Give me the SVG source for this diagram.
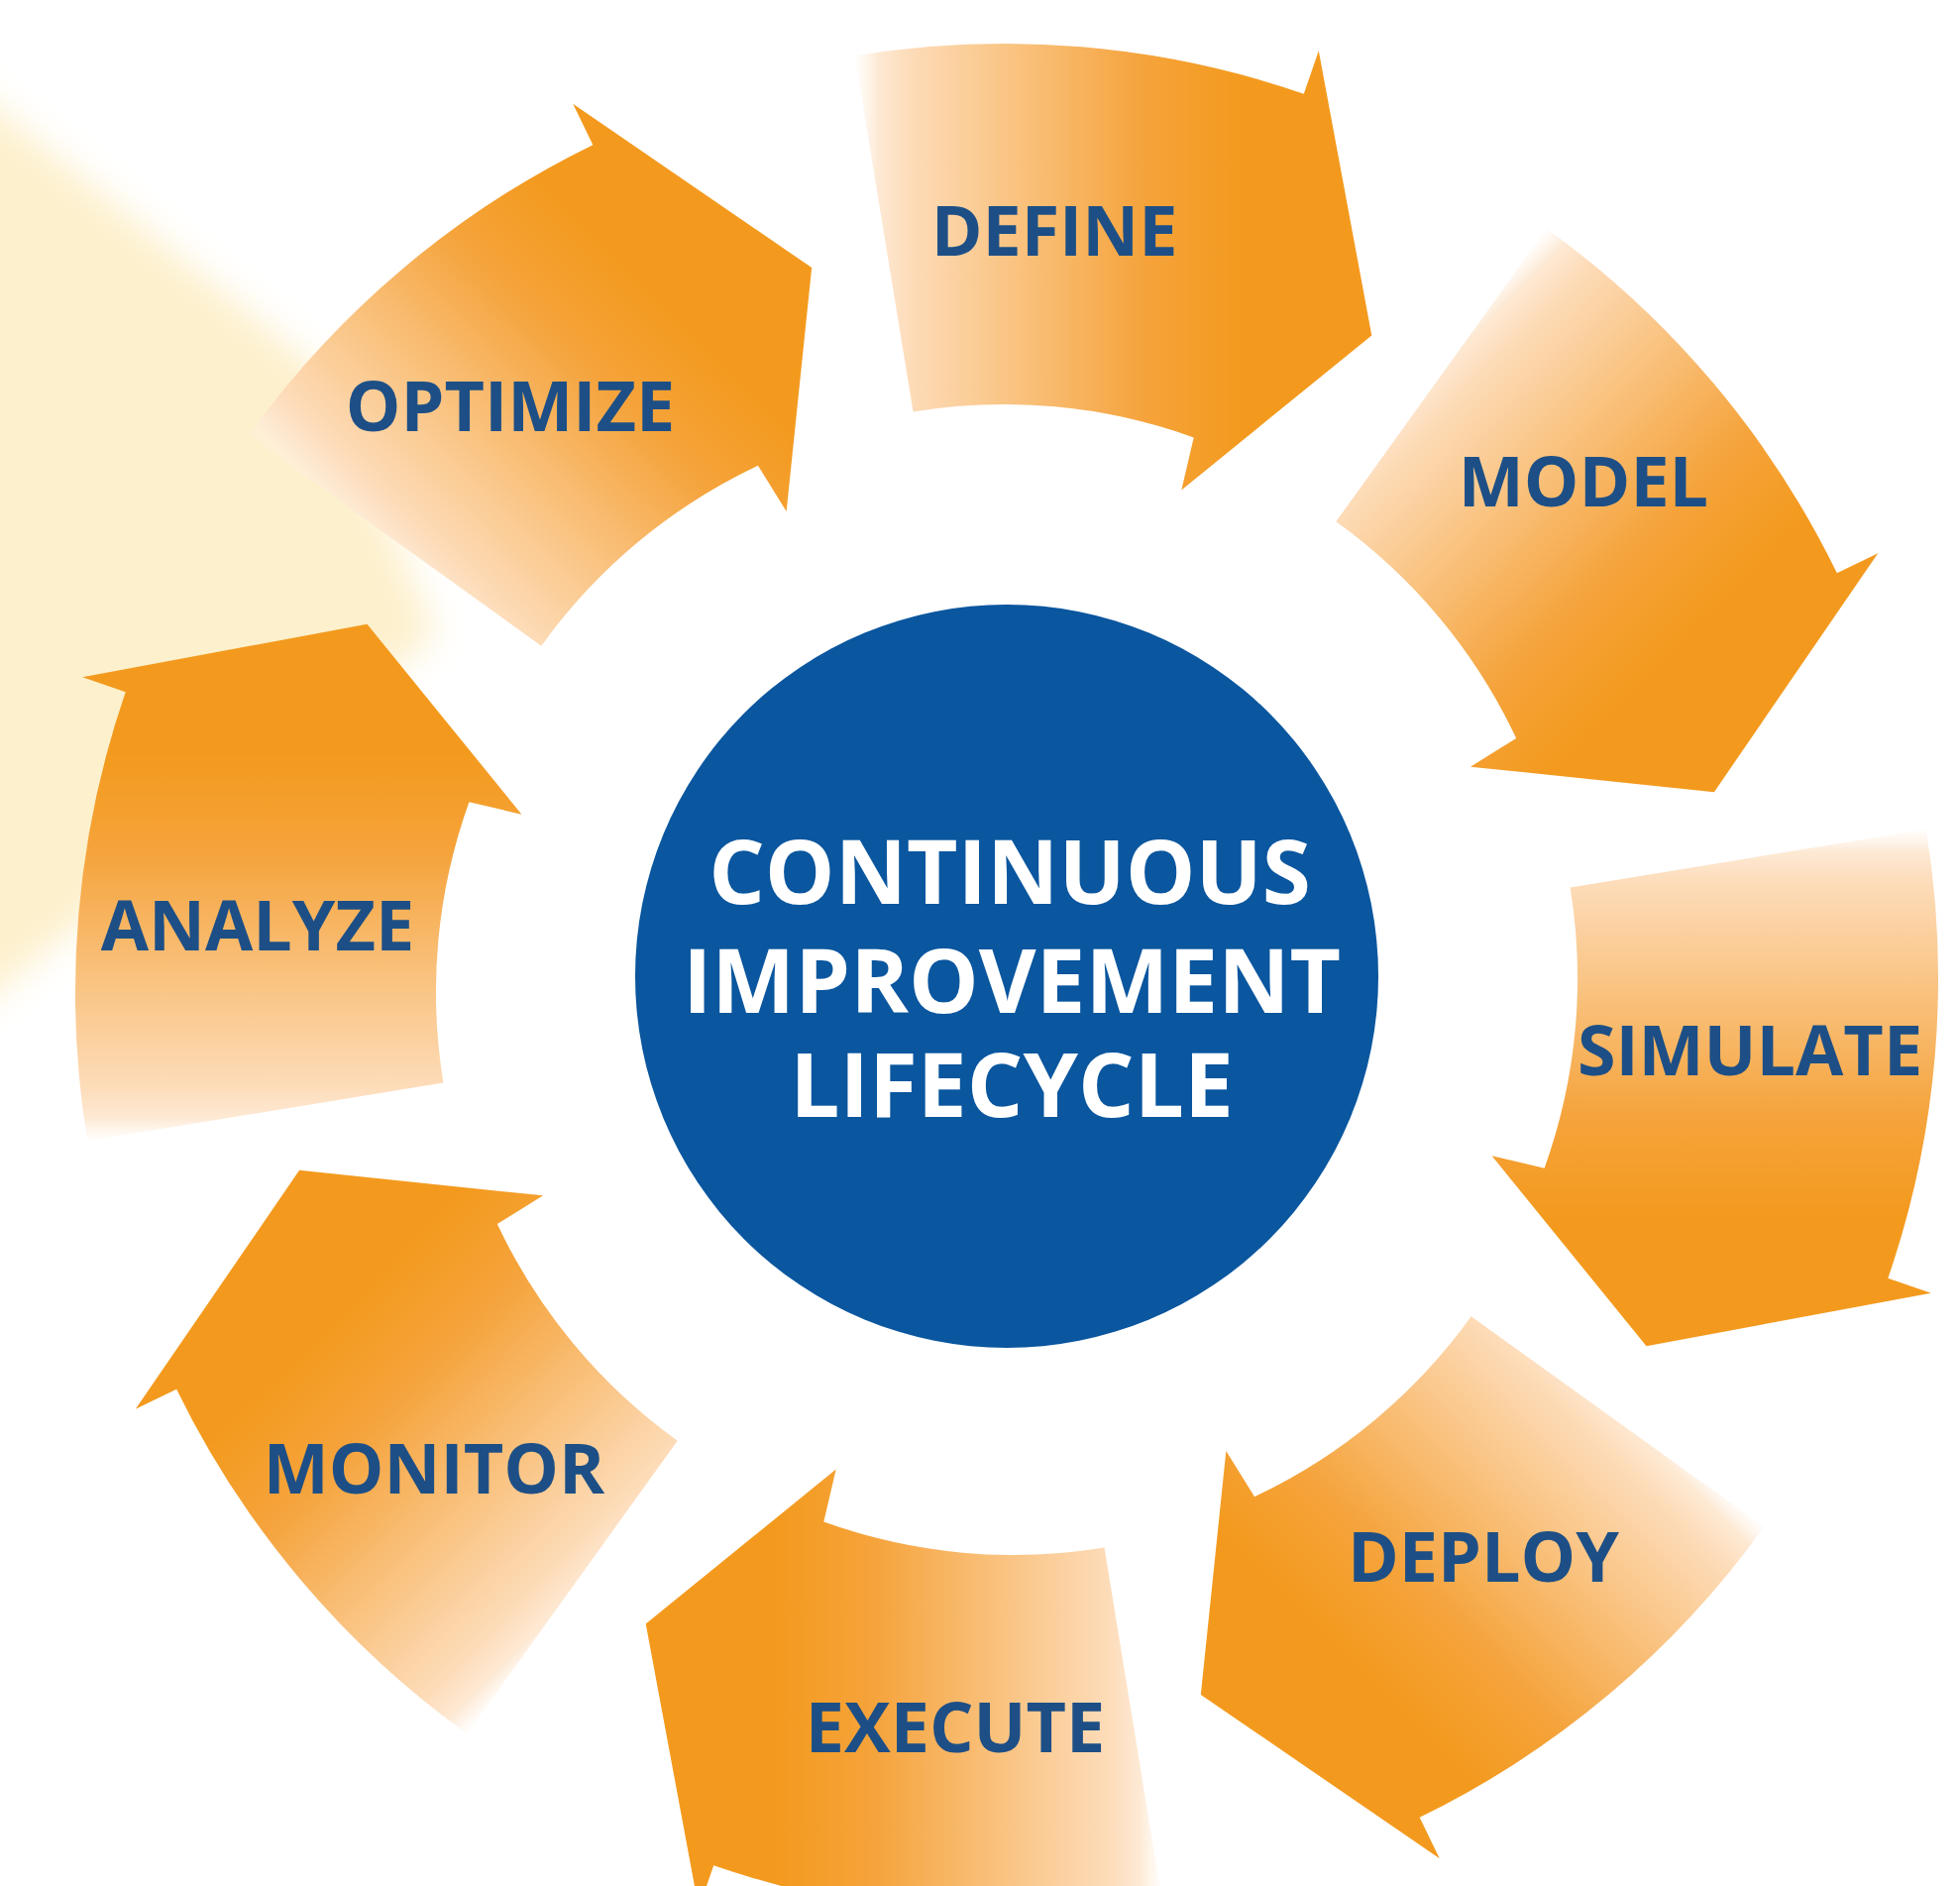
<svg xmlns="http://www.w3.org/2000/svg" width="1978" height="1903" viewBox="0 0 1978 1903">
<defs>
<style>
.lbl{font-family:"Open Sans","Noto Sans","Liberation Sans",sans-serif;font-weight:700;font-size:70px;fill:#1d4f86;text-anchor:middle}
.ctr{font-family:"Open Sans","Noto Sans","Liberation Sans",sans-serif;font-weight:700;font-size:89px;fill:#ffffff;text-anchor:middle}
.arrow{fill:url(#ag)}
</style>
<linearGradient id="ag" gradientUnits="userSpaceOnUse" x1="-155" y1="0" x2="240" y2="0">
<stop offset="0" stop-color="#fff6ec" stop-opacity="0"/>
<stop offset="0.07" stop-color="#fde8d2" stop-opacity="0.95"/>
<stop offset="0.15" stop-color="#fddcb9"/>
<stop offset="0.45" stop-color="#f9c07a"/>
<stop offset="0.75" stop-color="#f5a33b"/>
<stop offset="1" stop-color="#f39a1e"/>
</linearGradient>
<filter id="soft" x="-30%" y="-30%" width="160%" height="160%"><feGaussianBlur stdDeviation="18"/></filter>
<path id="arrowShape" d="M -150.3,-917.8 A 930 930 0 0 1 302.8,-879.3 L 317.8,-922.8 L 371.3,-635.5 L 179.3,-479.6 L 191.7,-532.6 A 566 566 0 0 0 -91.5,-558.6 Z"/>
</defs>
<rect width="1978" height="1903" fill="#ffffff"/>
<g id="glow">
<polygon points="-40,80 330,380 440,640 -40,1030" fill="#fdf0cc" filter="url(#soft)"/>
</g>
<g id="connectors"></g>
<g id="node-define">
<use href="#arrowShape" class="arrow" transform="translate(1013,974) rotate(0)"/>
<text class="lbl" x="1064" y="258">DEFINE</text>
</g>
<g id="node-model">
<use href="#arrowShape" class="arrow" transform="translate(1018,986) rotate(45)"/>
<text class="lbl" x="1598" y="511">MODEL</text>
</g>
<g id="node-simulate">
<use href="#arrowShape" class="arrow" transform="translate(1026,987) rotate(90)"/>
<text class="lbl" x="1766" y="1085">SIMULATE</text>
</g>
<g id="node-deploy">
<use href="#arrowShape" class="arrow" transform="translate(1025,998) rotate(135)"/>
<text class="lbl" x="1497" y="1596">DEPLOY</text>
</g>
<g id="node-execute">
<use href="#arrowShape" class="arrow" transform="translate(1023,1003) rotate(180)"/>
<text class="lbl" x="964" y="1768">EXECUTE</text>
</g>
<g id="node-monitor">
<use href="#arrowShape" class="arrow" transform="translate(1014,994) rotate(225)"/>
<text class="lbl" x="438" y="1507">MONITOR</text>
</g>
<g id="node-analyze">
<use href="#arrowShape" class="arrow" transform="translate(1006,1001) rotate(270)"/>
<text class="lbl" x="260" y="959">ANALYZE</text>
</g>
<g id="node-optimize">
<use href="#arrowShape" class="arrow" transform="translate(1006,982) rotate(315)"/>
<text class="lbl" x="515" y="435">OPTIMIZE</text>
</g>
<g id="node-center">
<circle cx="1016" cy="985" r="375" fill="#0a569f"/>
<text class="ctr"><tspan x="1019" y="912">CONTINUOUS</tspan><tspan x="1021" y="1022">IMPROVEMENT</tspan><tspan x="1021" y="1127">LIFECYCLE</tspan></text>
</g>
</svg>
